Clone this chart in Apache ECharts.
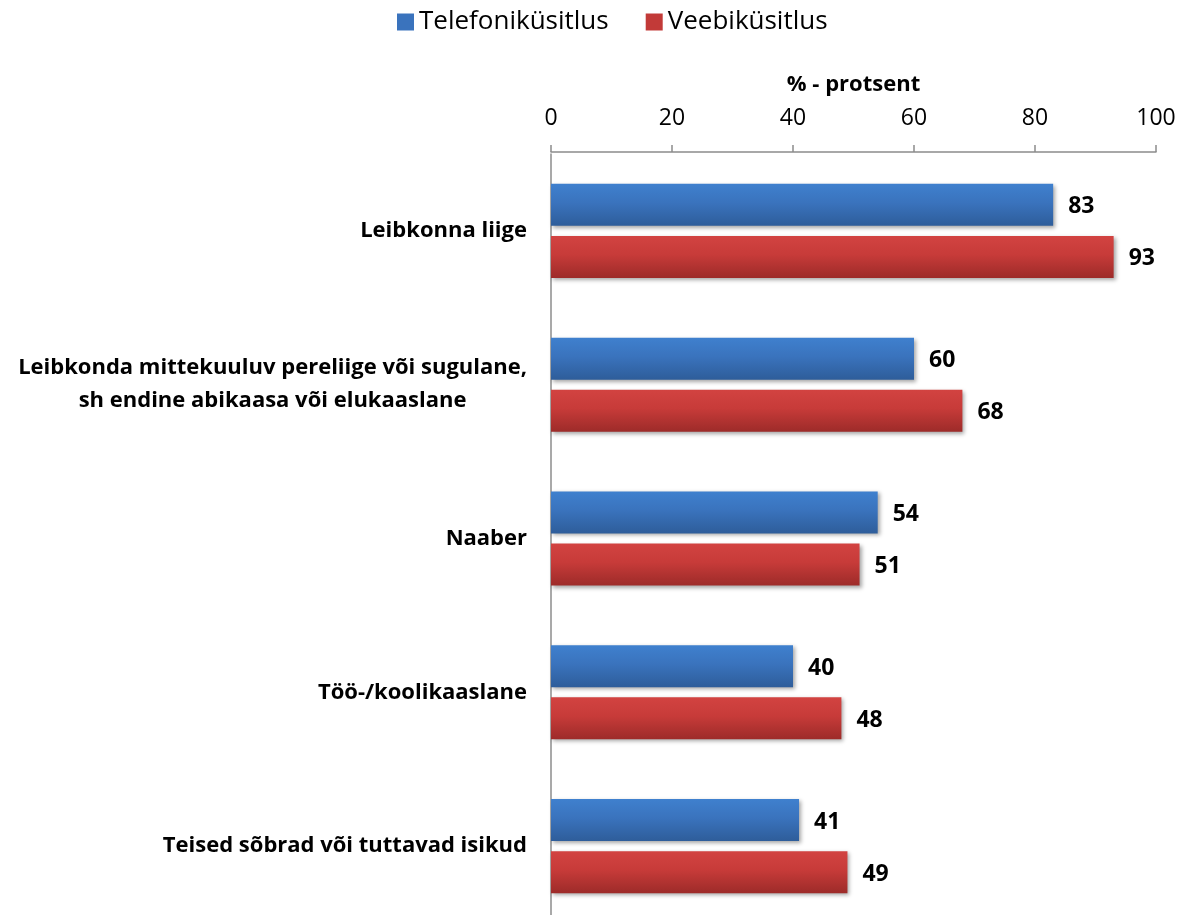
<!DOCTYPE html>
<html>
<head>
<meta charset="utf-8">
<script src="https://cdn.jsdelivr.net/npm/echarts@6/dist/echarts.min.js"></script>
<style>html,body{margin:0;padding:0;background:#fff;overflow:hidden}#c{width:1184px;height:935px}</style>
</head>
<body>
<div id="c"></div>
<script>
const categories = [
  'Leibkonna liige',
  'Leibkonda mittekuuluv pereliige või sugulane,\nsh endine abikaasa või elukaaslane',
  'Naaber',
  'Töö-/koolikaaslane',
  'Teised sõbrad või tuttavad isikud'
];
const seriesNames = ['Telefoniküsitlus', 'Veebiküsitlus'];
const telefon = [83, 60, 54, 40, 41];
const veeb = [93, 68, 51, 48, 49];
const xTicks = [0, 20, 40, 60, 80, 100];

const FONT = '"Open Sans", sans-serif';
const chart = echarts.init(document.getElementById('c'), null, {renderer: 'canvas'});
const grad = (a, b, c) => new echarts.graphic.LinearGradient(0, 0, 0, 1, [
  {offset: 0, color: a}, {offset: 0.45, color: b}, {offset: 1, color: c}
]);
const blue = grad('#3f80ce', '#3a73bd', '#2e5d9a');
const red = grad('#d24341', '#c73b39', '#9d2b29');
const labelStyle = {show: true, position: 'right', distance: 15, offset: [0, 2], fontFamily: FONT, fontWeight: 'bold', fontSize: 23, color: '#000'};
const shadow = {shadowColor: 'rgba(0,0,0,0.35)', shadowBlur: 4, shadowOffsetX: 2, shadowOffsetY: 2};

chart.setOption({
  animation: false,
  textStyle: {fontFamily: FONT},
  legend: {
    top: 4, left: 392, itemWidth: 17, itemHeight: 17, itemGap: 37,
    textStyle: {fontFamily: FONT, fontSize: 26, color: '#000', padding: [0, 0, 0, 0]},
    data: [
      {name: seriesNames[0], icon: 'rect', itemStyle: {color: '#3a73bd'}},
      {name: seriesNames[1], icon: 'rect', itemStyle: {color: '#c23a38'}}
    ]
  },
  grid: {left: 551, right: 28, top: 154, height: 769, containLabel: false},
  xAxis: {
    type: 'value', position: 'top', offset: 2, min: xTicks[0], max: xTicks[xTicks.length - 1], interval: 20,
    name: '% - protsent', nameLocation: 'middle', nameGap: 56,
    nameTextStyle: {fontFamily: FONT, fontWeight: 'bold', fontSize: 22, color: '#000'},
    axisLine: {show: true, lineStyle: {color: '#8c8c8c', width: 1.5}},
    axisTick: {show: true, length: 7, lineStyle: {color: '#8c8c8c', width: 1.5}},
    axisLabel: {margin: 22, fontFamily: FONT, fontSize: 23, color: '#000'},
    splitLine: {show: false}
  },
  yAxis: {
    type: 'category', inverse: true, data: categories,
    axisLine: {show: true, lineStyle: {color: '#8c8c8c', width: 1.5}},
    axisTick: {show: false},
    axisLabel: {
      margin: 24, align: 'right',
      formatter: v => v.split('\n').map(s => '{c|' + s + '}').join('\n'),
      rich: {c: {fontFamily: FONT, fontWeight: 'bold', fontSize: 22, color: '#000', lineHeight: 33, align: 'center'}}
    }
  },
  series: [
    {name: seriesNames[0], type: 'bar', data: telefon, barWidth: 42, barGap: '24%',
     itemStyle: Object.assign({color: blue}, shadow), label: labelStyle},
    {name: seriesNames[1], type: 'bar', data: veeb, barWidth: 42, barGap: '24%',
     itemStyle: Object.assign({color: red}, shadow), label: labelStyle}
  ]
});
</script>
</body>
</html>
